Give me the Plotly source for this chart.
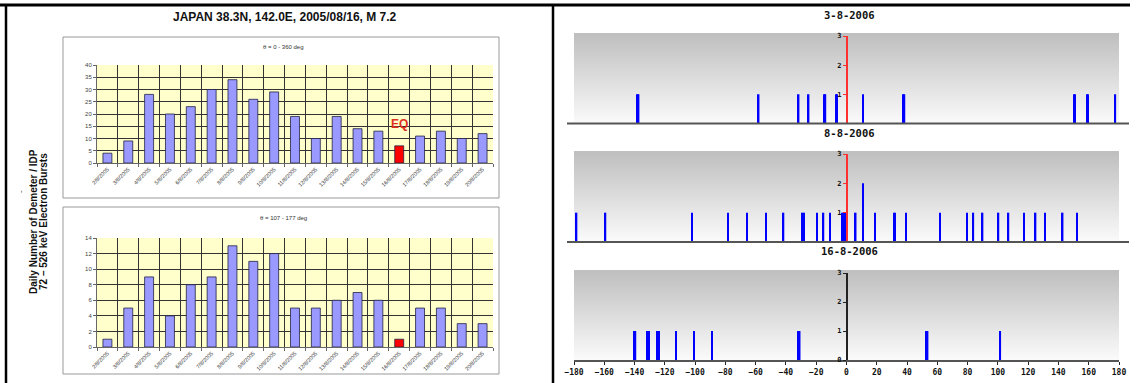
import plotly.graph_objects as go

# ---------------- data ----------------
dates = [f"{d}/8/2005" for d in range(2, 21)]
counts_all = [4, 9, 28, 20, 23, 30, 34, 26, 29, 19, 10, 19, 14, 13, 7, 11, 13, 10, 12]
counts_theta = [1, 5, 9, 4, 8, 9, 13, 11, 12, 5, 5, 6, 7, 6, 1, 5, 5, 3, 3]
eq_date = "16/8/2005"

panel_titles = ["3-8-2006", "8-8-2006", "16-8-2006"]
lon_p1 = [-137.9, -137.3, -58.0, -31.6, -25.0, -14.5, -13.9, -6.9, -6.3, 11.0,
          37.7, 38.3, 150.3, 150.9, 158.9, 159.5, 177.6]
h_p1 = [1] * len(lon_p1)
lon_p2 = [-178.3, -159.2, -102.1, -78.4, -65.6, -53.1, -41.6, -28.9, -28.1, -19.6,
          -15.2, -11.0, -2.9, -2.2, -1.5, -0.8, 6.1, 11.0, 18.9, 31.3, 32.1, 39.2,
          61.7, 79.6, 83.8, 89.9, 100.4, 107.0, 117.1, 124.9, 131.0, 142.8, 152.3]
h_p2 = [2 if v == 11.0 else 1 for v in lon_p2]
lon_p3 = [-140.1, -139.4, -131.3, -130.5, -124.7, -123.7, -112.7, -100.7, -88.7,
          -31.6, -30.9, 52.9, 53.6, 101.6]
h_p3 = [1] * len(lon_p3)
lon_ticks = list(range(-180, 181, 20))

W, H = 1136, 383
def px(x): return x / W
def py(y): return 1 - y / H

fig = go.Figure()

# ---------------- left bar charts ----------------
idx = list(range(len(dates)))
eq_i = dates.index(eq_date)
colors = ["#FF0000" if i == eq_i else "#9999FF" for i in idx]

for vals, xa, ya in [(counts_all, "x", "y"), (counts_theta, "x2", "y2")]:
    fig.add_trace(go.Bar(x=idx, y=vals, width=0.43, xaxis=xa, yaxis=ya,
                         marker=dict(color=colors, line=dict(color="#222244", width=0.8)),
                         hoverinfo="skip"))

left_dom = [px(97), px(493)]
xcommon = dict(domain=left_dom, range=[-0.5, len(dates) - 0.5], tickmode="array",
               tickvals=idx, ticktext=dates, tickangle=-45, showgrid=False,
               tickfont=dict(size=5.5, color="#333", family="Liberation Sans"),
               ticks="", zeroline=False, showline=True, linecolor="#666", automargin=False,
               minor=dict(tickmode="array", tickvals=[i - 0.5 for i in range(len(dates) + 1)],
                          showgrid=True, gridcolor="#333", gridwidth=0.8,
                          ticks="outside", ticklen=3, tickcolor="#666"))
ycommon = dict(showgrid=True, gridcolor="#333", gridwidth=0.8, ticks="outside", ticklen=3,
               tickcolor="#666", showline=True, linecolor="#666", zeroline=False,
               automargin=False,
               tickfont=dict(size=6, color="#444", family="Liberation Sans"))
fig.update_layout(
    xaxis=dict(**xcommon, anchor="y"),
    yaxis=dict(**ycommon, domain=[py(163), py(65)], range=[0, 40], dtick=5, anchor="x"),
    xaxis2=dict(**xcommon, anchor="y2"),
    yaxis2=dict(**ycommon, domain=[py(347), py(238)], range=[0, 14], dtick=2, anchor="x2"),
)

shapes = []
for (y0, y1) in [(37, 198), (207, 374)]:
    shapes.append(dict(type="rect", xref="paper", yref="paper", x0=px(63), x1=px(499),
                       y0=py(y1), y1=py(y0), line=dict(color="#999", width=1),
                       fillcolor="white", layer="below"))
for xr, yr in [("x", "y"), ("x2", "y2")]:
    shapes.append(dict(type="rect", xref=f"{xr} domain", yref=f"{yr} domain", x0=0, x1=1,
                       y0=0, y1=1, line=dict(width=0), fillcolor="#FFFFCC", layer="below"))

def ann(text, x, y, size, color="#111", family="Liberation Sans", **kw):
    d = dict(text=text, x=x, y=y, xref="paper", yref="paper", showarrow=False,
             xanchor="center", yanchor="middle", font=dict(size=size, family=family, color=color))
    d.update(kw)
    return d

annotations = [
    ann("<b>JAPAN 38.3N, 142.0E, 2005/08/16, M 7.2</b>", px(285), py(17), 12),
    ann("θ = 0 - 360 deg", px(283), py(47), 6, "#333"),
    ann("θ = 107 - 177 deg", px(283), py(218), 6, "#333"),
    ann("<b>Daily Number of Demeter / IDP</b>", px(33), py(222), 10, textangle=-90),
    ann("<b>72 – 526 keV Electron Bursts</b>", px(43), py(222), 10, textangle=-90),
    ann("-", px(21), py(192), 8, "#333", textangle=-90),
    dict(text="<b>EQ</b>", x=eq_i, y=counts_all[eq_i] + 9, xref="x", yref="y",
         showarrow=False, xanchor="center", yanchor="middle",
         font=dict(size=12, family="Liberation Sans", color="#E03020")),
]

# ---------------- right panels ----------------
right_dom = [px(574), px(1119)]
zero_pos = right_dom[0] + (right_dom[1] - right_dom[0]) * 0.5
panels = [
    (lon_p1, h_p1, 3, (36, 123.5), "#FF3030", [1, 2, 3]),
    (lon_p2, h_p2, 4, (154, 242), "#FF3030", [1, 2, 3]),
    (lon_p3, h_p3, 5, (273, 360), "#222", [0, 1, 2, 3]),
]
title_y = [15, 133, 251]
mono = "DejaVu Sans Mono"
n_stripes = 60
def grad(t):  # t=0 bottom, 1 top
    lo, hi = 250, 191
    v = round(lo + (hi - lo) * t)
    return f"rgb({v},{v},{v})"

top_ext = 1.03
for pi, (lons, hs, n, (ytop, ybot), ycol, yticks) in enumerate(panels):
    xa, ya = f"x{n}", f"y{n}"
    for s in range(n_stripes):
        shapes.append(dict(type="rect", xref=xa, yref=f"{ya} domain", x0=-180, x1=180,
                           y0=top_ext * s / n_stripes, y1=top_ext,
                           line=dict(width=0), fillcolor=grad((s + 0.5) / n_stripes),
                           layer="below"))
    fig.add_trace(go.Bar(x=lons, y=hs, width=1.0, xaxis=xa, yaxis=ya,
                         marker=dict(color="#0000FF", line=dict(width=0)), hoverinfo="skip"))
    last = (n == 5)
    fig.layout[f"xaxis{n}"] = dict(
        domain=right_dom, range=[-180, 180], anchor=ya, showgrid=False, zeroline=False,
        tickmode="array", tickvals=lon_ticks, showticklabels=last, automargin=False,
        showline=last, linecolor="#555", linewidth=2,
        ticks="outside" if last else "", ticklen=3, tickcolor="#222",
        tickfont=dict(size=8, family=mono, color="#111", weight="bold"))
    fig.layout[f"yaxis{n}"] = dict(
        domain=[py(ybot), py(ytop)], range=[0, 3], anchor="free", position=zero_pos,
        showgrid=False, zeroline=False, showline=True, linecolor=ycol, linewidth=1.5,
        tickmode="array", tickvals=yticks, ticks="outside", ticklen=3, tickcolor=ycol,
        automargin=False,
        tickfont=dict(size=7, family=mono, color="#111", weight="bold"))
    if not last:
        shapes.append(dict(type="line", xref="paper", yref="paper", x0=px(567), x1=px(1129),
                           y0=py(ybot), y1=py(ybot), line=dict(color="#555", width=2)))
    annotations.append(ann(f"<b>{panel_titles[pi]}</b>", px(849), py(title_y[pi]), 10.5,
                           family=mono))

# outer frame lines
shapes.append(dict(type="line", xref="paper", yref="paper", x0=0, x1=px(1130),
                   y0=py(5), y1=py(5), line=dict(color="black", width=3)))
for xx in [6, 553]:
    shapes.append(dict(type="line", xref="paper", yref="paper", x0=px(xx), x1=px(xx),
                       y0=0, y1=py(5), line=dict(color="black", width=2.5)))

fig.update_layout(width=W, height=H, margin=dict(l=0, r=0, t=0, b=0, autoexpand=False),
                  paper_bgcolor="white", plot_bgcolor="rgba(0,0,0,0)",
                  showlegend=False, barmode="overlay", shapes=shapes,
                  annotations=annotations)

fig.write_html("out.html", config={"displayModeBar": False},
               post_script="document.body.style.margin='0px';")
